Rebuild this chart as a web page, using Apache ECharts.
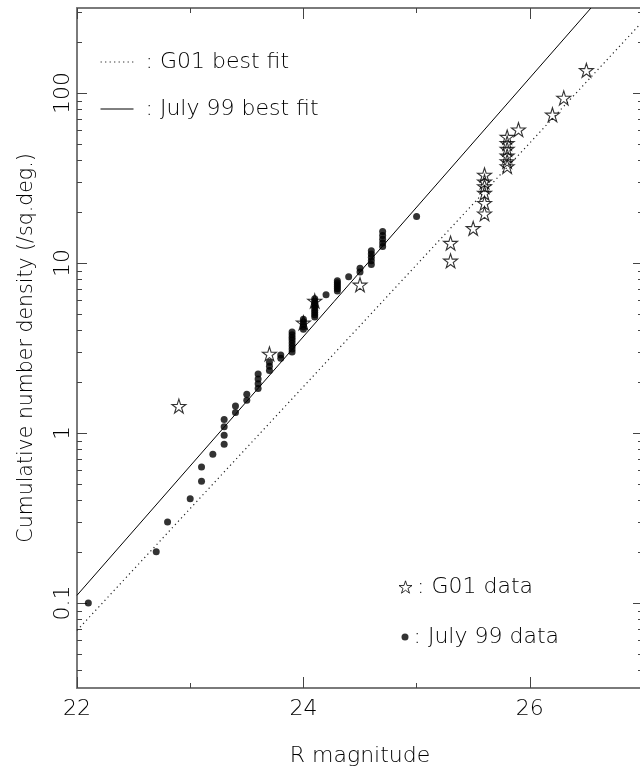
<!DOCTYPE html>
<html>
<head>
<meta charset="utf-8">
<script src="https://cdn.jsdelivr.net/npm/echarts@6/dist/echarts.min.js"></script>
<style>
html,body{margin:0;padding:0;background:#ffffff;}
#c{width:640px;height:768px;}
</style>
</head>
<body>
<div id="c"></div>
<script>
// ---------- data ----------
const xTickValues = [22, 24, 26];
const yMajorTicks = [0.1, 1, 10, 100];
const yTickLabels = ['0.1', '1', '10', '100'];
const yMinorTicks = [0.04, 0.05, 0.06, 0.07, 0.08, 0.09,
                     0.2, 0.3, 0.4, 0.5, 0.6, 0.7, 0.8, 0.9,
                     2, 3, 4, 5, 6, 7, 8, 9,
                     20, 30, 40, 50, 60, 70, 80, 90,
                     200, 300];

// best-fit lines (end points)
const g01FitMag = [22, 27];
const g01FitDens = [0.069, 265];
const july99FitMag = [22, 26.54];
const july99FitDens = [0.111, 316];

// G01 data (stars)
const g01Mag = [22.9, 23.7, 24.0, 24.1, 24.5, 25.3, 25.3, 25.5,
                25.6, 25.6, 25.6, 25.6, 25.6, 25.6,
                25.8, 25.8, 25.8, 25.8, 25.8, 25.8,
                25.9, 26.2, 26.3, 26.5];
const g01Dens = [1.44, 2.92, 4.45, 5.98, 7.45, 10.3, 13.1, 16.0,
                 19.5, 22.5, 25.8, 28.2, 30.1, 33.0,
                 37.0, 39.6, 42.7, 46.8, 50.7, 55.1,
                 60.9, 74.5, 93.5, 136];

// July 99 data (dots)
const july99Mag = [22.1, 22.7, 22.8, 23.0, 23.1, 23.1, 23.2,
                   23.3, 23.3, 23.3, 23.3, 23.4, 23.4, 23.5, 23.5,
                   23.6, 23.6, 23.6, 23.6, 23.7, 23.7, 23.7, 23.8, 23.8,
                   23.9, 23.9, 23.9, 23.9, 23.9, 23.9, 23.9, 23.9,
                   24.0, 24.0, 24.0, 24.0, 24.0,
                   24.1, 24.1, 24.1, 24.1, 24.1, 24.1, 24.1, 24.1, 24.1,
                   24.2,
                   24.3, 24.3, 24.3, 24.3, 24.3, 24.3,
                   24.4, 24.5, 24.5,
                   24.6, 24.6, 24.6, 24.6, 24.6,
                   24.7, 24.7, 24.7, 24.7, 24.7,
                   25.0];
const july99Dens = [0.10, 0.20, 0.30, 0.41, 0.52, 0.63, 0.75,
                    0.86, 0.97, 1.09, 1.20, 1.32, 1.44, 1.56, 1.69,
                    1.83, 1.95, 2.08, 2.22, 2.33, 2.47, 2.61, 2.75, 2.88,
                    3.00, 3.12, 3.25, 3.38, 3.52, 3.65, 3.79, 3.93,
                    4.07, 4.22, 4.36, 4.51, 4.66,
                    4.81, 4.96, 5.12, 5.28, 5.45, 5.62, 5.80, 5.98, 6.16,
                    6.50,
                    6.85, 7.05, 7.25, 7.45, 7.65, 7.87,
                    8.30, 8.85, 9.30,
                    9.80, 10.3, 10.8, 11.3, 11.8,
                    12.5, 13.1, 13.8, 14.5, 15.3,
                    18.8];

// ---------- styling ----------
const FONT = 'DejaVu Sans';
const TXT = '#000000';
const AXIS = '#7a7a7a';
const TICK = '#444';
const STAR = 'path://M0,-10L2.245,-3.09L9.511,-3.09L3.633,1.18L5.878,8.09L0,3.82L-5.878,8.09L-3.633,1.18L-9.511,-3.09L-2.245,-3.09Z';
const DOT_DASH = [1.2, 3.3];
const Y_MIN = Math.pow(10, -1.5), Y_MAX = Math.pow(10, 2.5);

const zip = (a, b) => a.map((v, i) => [v, b[i]]);

function xAxisDef(pos, showLabel) {
  return {
    type: 'value', position: pos, min: 22, max: 27, interval: 2,
    axisLine: { show: true, onZero: false, lineStyle: { color: AXIS, width: 2 } },
    axisTick: { show: true, inside: true, length: 11, lineStyle: { color: TICK, width: 1 } },
    minorTick: { show: true, splitNumber: 2, length: 5, lineStyle: { color: TICK, width: 1 } },
    splitLine: { show: false }, minorSplitLine: { show: false },
    axisLabel: showLabel ? {
      show: true, customValues: xTickValues, margin: 10,
      fontFamily: FONT, fontSize: 22, fontWeight: 200, color: TXT
    } : { show: false },
    name: showLabel ? 'R magnitude' : '',
    nameLocation: 'middle', nameGap: 57,
    nameTextStyle: { fontFamily: FONT, fontSize: 22, fontWeight: 200, color: TXT }
  };
}

function yAxisDef(pos, major, withLabel) {
  const o = {
    type: 'log', logBase: 10, position: pos, min: Y_MIN, max: Y_MAX,
    axisLine: { show: major, onZero: false, lineStyle: { color: AXIS, width: 2 } },
    axisTick: { show: true, inside: true, length: major ? 10 : 5,
                customValues: major ? yMajorTicks : yMinorTicks,
                lineStyle: { color: TICK, width: 1 } },
    minorTick: { show: false },
    splitLine: { show: false }, minorSplitLine: { show: false },
    axisLabel: { show: false }
  };
  if (withLabel) {
    o.axisLabel = {
      show: true, customValues: yMajorTicks, rotate: 90, margin: 3,
      fontFamily: FONT, fontSize: 22, fontWeight: 200, color: TXT,
      formatter: function (v) {
        const i = yMajorTicks.findIndex(t => Math.abs(t - v) / t < 1e-6);
        return i >= 0 ? yTickLabels[i] : '';
      }
    };
    o.name = 'Cumulative number density (/sq.deg.)';
    o.nameLocation = 'middle';
    o.nameRotate = 90;
    o.nameGap = 40;
    o.nameTextStyle = { fontFamily: FONT, fontSize: 20.5, fontWeight: 200, color: TXT };
  }
  return o;
}

const legendText = { fontFamily: FONT, fontSize: 22, fontWeight: 200, color: TXT };
const noSymbol = { color: 'rgba(0,0,0,0)', borderColor: 'rgba(0,0,0,0)', borderWidth: 0, opacity: 0 };

const option = {
  backgroundColor: '#ffffff',
  animation: false,
  grid: { left: 77, width: 566, top: 8, bottom: 80, containLabel: false, outerBoundsMode: 'none' },
  xAxis: [xAxisDef('bottom', true), xAxisDef('top', false)],
  yAxis: [
    yAxisDef('left', true, true),
    yAxisDef('left', false, false),
    yAxisDef('right', true, false),
    yAxisDef('right', false, false)
  ],
  legend: [
    { data: ['G01 best fit'], left: 100, top: 51, padding: 0, selectedMode: false,
      itemWidth: 33, itemHeight: 14, formatter: ' : {name}', textStyle: legendText,
      itemStyle: noSymbol,
      lineStyle: { color: '#222', width: 1.2, type: DOT_DASH } },
    { data: ['July 99 best fit'], left: 100, top: 98, padding: 0, selectedMode: false,
      itemWidth: 33, itemHeight: 14, formatter: ' : {name}', textStyle: legendText,
      itemStyle: noSymbol,
      lineStyle: { color: '#000', width: 1, type: 'solid' } },
    { data: [{ name: 'G01 data', icon: STAR }], left: 398.5, top: 576, padding: 0, selectedMode: false,
      itemWidth: 13, itemHeight: 13, formatter: ': {name}', textStyle: legendText,
      itemStyle: { color: 'rgba(0,0,0,0)', borderColor: '#000', borderWidth: 1 } },
    { data: [{ name: 'July 99 data', icon: 'circle' }], left: 401.5, top: 626, padding: 0, selectedMode: false,
      itemWidth: 7, itemHeight: 7, formatter: ': {name}', textStyle: legendText,
      itemStyle: { color: '#000' } }
  ],
  series: [
    { name: 'G01 best fit', type: 'line', xAxisIndex: 0, yAxisIndex: 0,
      data: zip(g01FitMag, g01FitDens), symbol: 'none', silent: true, z: 2,
      itemStyle: { color: '#222' },
      lineStyle: { color: '#222', width: 1.2, type: DOT_DASH } },
    { name: 'July 99 best fit', type: 'line', xAxisIndex: 0, yAxisIndex: 0,
      data: zip(july99FitMag, july99FitDens), symbol: 'none', silent: true, z: 2,
      itemStyle: { color: '#000' },
      lineStyle: { color: '#000', width: 1 } },
    { name: 'G01 data', type: 'scatter', xAxisIndex: 0, yAxisIndex: 0,
      data: zip(g01Mag, g01Dens), symbol: STAR, symbolSize: 14, z: 3,
      itemStyle: { color: 'rgba(0,0,0,0)', borderColor: '#000', borderWidth: 1.1 } },
    { name: 'July 99 data', type: 'scatter', xAxisIndex: 0, yAxisIndex: 0,
      data: zip(july99Mag, july99Dens), symbol: 'circle', symbolSize: 7, z: 4,
      itemStyle: { color: '#000' } }
  ]
};

const chart = echarts.init(document.getElementById('c'), null, { renderer: 'canvas' });
chart.setOption(option);
</script>
</body>
</html>
